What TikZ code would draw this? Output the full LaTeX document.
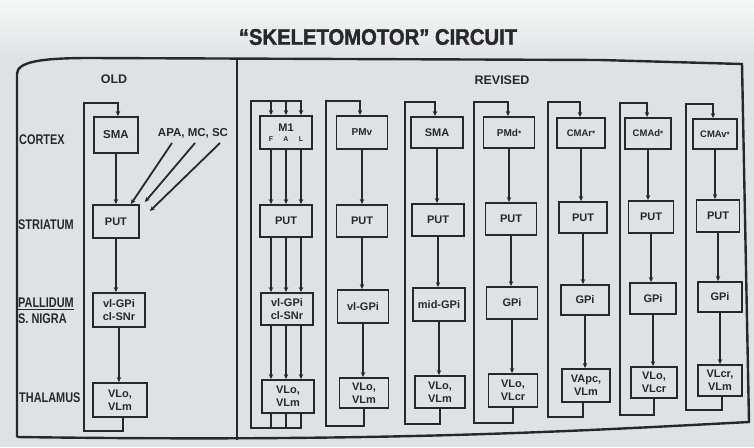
\documentclass[tikz,border=0pt]{standalone}
\usepackage{fontspec}
\setmainfont{Liberation Sans}
\newfontfamily\labfont{Liberation Sans}[FakeStretch=0.78]
\newfontfamily\titlefont{Liberation Sans}[FakeStretch=0.9,FakeBold=1.5]
\usetikzlibrary{arrows.meta}
\definecolor{ink}{RGB}{40,40,42}
\definecolor{paper}{RGB}{223,226,227}
\definecolor{paperhi}{RGB}{246,247,247}
\newcommand\stm{{\fontsize{8}{8}\selectfont*}}
\newcommand\fal{\\[-3pt]{\fontsize{7}{7}\selectfont\makebox[15pt]{F}\makebox[15pt]{A}\makebox[15pt]{L}}}
\tikzset{
  box/.style={draw=ink, line width=1.9pt, fill=paper, inner sep=0pt, align=center,
    font=\bfseries\fontsize{11}{13}\selectfont, text=ink},
  smallbox/.style={box, font=\bfseries\fontsize{9.5}{11}\selectfont},
  midbox/.style={box, font=\bfseries\fontsize{10}{12}\selectfont},
  conn/.style={draw=ink, line width=1.8pt},
  arr/.style={conn, -{Stealth[length=5pt,width=4.5pt]}},
  rowlab/.style={anchor=west, font=\labfont\bfseries\fontsize{14}{16}\selectfont, text=ink, inner sep=0pt, align=left},
  heading/.style={font=\bfseries\fontsize{12.5}{13}\selectfont, text=ink},
  framel/.style={draw=ink, line width=2.4pt}
}
\begin{document}
\begin{tikzpicture}[x=1pt,y=-1pt]
\useasboundingbox (0,0) rectangle (754,447);
\fill[paper] (0,0) rectangle (754,447);
\shade[top color=paperhi, bottom color=paper] (0,0) rectangle (754,60);
% frame
\draw[framel] (17,437) -- (17,74) .. controls (17,62) and (40,58) .. (90,58) -- (600,60) -- (742,64) -- (749,422) .. controls (560,432) and (380,442) .. (17,437);
\draw[framel] (237,58) -- (237,440);
% title and headings
\node[font=\titlefont\bfseries\fontsize{22.5}{23}\selectfont, text=ink] (title) at (378,37) {“SKELETOMOTOR” CIRCUIT};
\node[heading] (old) at (114,79) {OLD};
\node[heading] (revised) at (502,80) {REVISED};
% row labels
\node[rowlab] (cortex) at (19,140) {CORTEX};
\node[rowlab] (striatum) at (18,225) {STRIATUM};
\node[rowlab] (pallidum) at (18,311) {\underline{PALLIDUM}\\S. NIGRA};
\node[rowlab] (thalamus) at (19,398) {THALAMUS};

% ---------- OLD column ----------
\node[box, anchor=west, minimum width=44, minimum height=36, font=\bfseries\fontsize{11.5}{13}\selectfont] (osma) at (93,135) {SMA};
\node[box, anchor=west, minimum width=46, minimum height=33] (oput) at (92,221.5) {PUT};
\node[box, anchor=west, minimum width=52, minimum height=34] (ogpi) at (92,310) {vl-GPi\\cl-SNr};
\node[box, anchor=west, minimum width=54, minimum height=34] (ovl) at (92,400) {VLo,\\VLm};
\draw[arr] (osma) -- (osma.south |- oput.north);
\draw[arr] (oput) -- (oput.south |- ogpi.north);
\draw[arr] (ogpi) -- (ogpi.south |- ovl.north);
\coordinate (obl) at (84,431);
\coordinate (otl) at (84,103);
\draw[arr] ([xshift=3pt]ovl.south) |- (obl) -- (otl) -| ([xshift=2pt]osma.north);
\node[font=\bfseries\fontsize{11.5}{12}\selectfont, text=ink] (apa) at (193,133) {APA, MC, SC};
\coordinate (apa1) at (172,143);
\coordinate (apa2) at (195,143);
\coordinate (apa3) at (220,143);
\draw[arr] (apa1) -- ([xshift=-9pt]oput.north east);
\draw[arr] (apa2) -- ([xshift=5pt,yshift=2pt]oput.north east);
\draw[arr] (apa3) -- ([xshift=10pt,yshift=-7pt]oput.north east);

% ---------- REVISED column 1: M1 ----------
\node[box, minimum width=52, minimum height=33] (m1) at (286,132.5) {M1\fal};
\node[box, minimum width=52, minimum height=32] (put1) at (286,221) {PUT};
\node[box, minimum width=52, minimum height=32] (gpi1) at (287,309) {vl-GPi\\cl-SNr};
\node[box, minimum width=52, minimum height=33] (vl1) at (288,396.5) {VLo,\\VLm};
\foreach \s in {-15,0,15}{
  \draw[arr] ([xshift=\s pt]m1.south) -- ([xshift=\s pt]put1.north);
  \draw[arr] ([xshift=\s pt]put1.south) -- ([xshift=\s pt]put1.south |- gpi1.north);
  \draw[arr] ([xshift=\s pt]put1.south |- gpi1.south) -- ([xshift=\s pt]put1.south |- vl1.north);
}
\coordinate (r1tl) at (251,101);
\coordinate (r1bl) at (251,428);
\coordinate (m1a) at ([xshift=-15pt]m1.north);
\coordinate (m1b) at (m1.north);
\coordinate (v1a) at ([xshift=-15pt]put1.south |- vl1.south);
\coordinate (v1b) at (put1.south |- vl1.south);
\draw[arr] ([xshift=15pt]put1.south |- vl1.south) |- (r1bl) -- (r1tl) -| ([xshift=15pt]m1.north);
\draw[arr] (m1a |- r1tl) -- (m1a);
\draw[arr] (m1b |- r1tl) -- (m1b);
\draw[conn] (v1a) -- (v1a |- r1bl);
\draw[conn] (v1b) -- (v1b |- r1bl);

% ---------- REVISED column 2: PMv ----------
\node[midbox, minimum width=51, minimum height=33] (cx2) at (362,132.5) {PMv};
\node[box, minimum width=51, minimum height=32] (put2) at (362,221) {PUT};
\node[box, minimum width=51, minimum height=33] (gpi2) at (363,306.5) {vl-GPi};
\node[box, minimum width=49, minimum height=30] (vl2) at (364,393) {VLo,\\VLm};
\draw[arr] (cx2) -- (cx2.south |- put2.north);
\draw[arr] (put2) -- (put2.south |- gpi2.north);
\draw[arr] (gpi2) -- (gpi2.south |- vl2.north);
\coordinate (r2tl) at (326,101);
\coordinate (r2bl) at (326,426);
\draw[arr] (vl2.south) |- (r2bl) -- (r2tl) -| ([xshift=-2pt]cx2.north);

% ---------- REVISED column 3: SMA ----------
\node[box, minimum width=52, minimum height=31] (cx3) at (437,132.5) {SMA};
\node[box, minimum width=52, minimum height=32] (put3) at (438,220) {PUT};
\node[box, minimum width=52, minimum height=33] (gpi3) at (439,304.5) {mid-GPi};
\node[box, minimum width=50, minimum height=32] (vl3) at (440,392) {VLo,\\VLm};
\draw[arr] (cx3) -- (cx3.south |- put3.north);
\draw[arr] (put3) -- (put3.south |- gpi3.north);
\draw[arr] (gpi3) -- (gpi3.south |- vl3.north);
\coordinate (r3tl) at (405,102);
\coordinate (r3bl) at (405,424);
\draw[arr] (vl3.south) |- (r3bl) -- (r3tl) -| ([xshift=-2pt]cx3.north);

% ---------- REVISED column 4: PMd* ----------
\node[midbox, minimum width=51, minimum height=31] (cx4) at (509,132.5) {PMd\stm};
\node[box, minimum width=51, minimum height=32] (put4) at (511,219) {PUT};
\node[box, minimum width=51, minimum height=32] (gpi4) at (512,303) {GPi};
\node[box, minimum width=49, minimum height=33] (vl4) at (513,390.5) {VLo,\\VLcr};
\draw[arr] (cx4) -- (cx4.south |- put4.north);
\draw[arr] (put4) -- (put4.south |- gpi4.north);
\draw[arr] (gpi4) -- (gpi4.south |- vl4.north);
\coordinate (r4tl) at (474,102);
\coordinate (r4bl) at (474,423);
\draw[arr] (vl4.south) |- (r4bl) -- (r4tl) -| ([xshift=-1pt]cx4.north);

% ---------- REVISED column 5: CMAr* ----------
\node[smallbox, minimum width=48, minimum height=30] (cx5) at (581,133) {CMAr\stm};
\node[box, minimum width=48, minimum height=31] (put5) at (583,217.5) {PUT};
\node[box, minimum width=48, minimum height=30] (gpi5) at (585,300) {GPi};
\node[box, minimum width=48, minimum height=33] (vl5) at (586,385.5) {VApc,\\VLm};
\draw[arr] (cx5) -- (cx5.south |- put5.north);
\draw[arr] (put5) -- (put5.south |- gpi5.north);
\draw[arr] (gpi5) -- (gpi5.south |- vl5.north);
\coordinate (r5tl) at (548,102);
\coordinate (r5bl) at (548,417);
\draw[arr] ([xshift=-3pt]vl5.south) |- (r5bl) -- (r5tl) -| ([xshift=-1pt]cx5.north);

% ---------- REVISED column 6: CMAd* ----------
\node[smallbox, minimum width=46, minimum height=31] (cx6) at (648,133.5) {CMAd\stm};
\node[box, minimum width=45, minimum height=32] (put6) at (651,217) {PUT};
\node[box, minimum width=46, minimum height=31] (gpi6) at (653,298.5) {GPi};
\node[box, minimum width=46, minimum height=31] (vl6) at (654,382.5) {VLo,\\VLcr};
\draw[arr] (cx6) -- (cx6.south |- put6.north);
\draw[arr] (put6) -- (put6.south |- gpi6.north);
\draw[arr] (gpi6) -- (gpi6.south |- vl6.north);
\coordinate (r6tl) at (620,103);
\coordinate (r6bl) at (620,415);
\draw[arr] (vl6.south) |- (r6bl) -- (r6tl) -| ([xshift=-1pt]cx6.north);

% ---------- REVISED column 7: CMAv* ----------
\node[smallbox, minimum width=44, minimum height=30] (cx7) at (715,134) {CMAv\stm};
\node[box, minimum width=43, minimum height=32] (put7) at (718,216) {PUT};
\node[box, minimum width=44, minimum height=30] (gpi7) at (720,297) {GPi};
\node[box, minimum width=44, minimum height=31] (vl7) at (720,380.5) {VLcr,\\VLm};
\draw[arr] (cx7) -- (cx7.south |- put7.north);
\draw[arr] (put7) -- (put7.south |- gpi7.north);
\draw[arr] (gpi7) -- (gpi7.south |- vl7.north);
\coordinate (r7tl) at (686,104);
\coordinate (r7bl) at (686,410);
\draw[arr] ([xshift=2pt]vl7.south) |- (r7bl) -- (r7tl) -| ([xshift=-2pt]cx7.north);
\end{tikzpicture}
\end{document}
